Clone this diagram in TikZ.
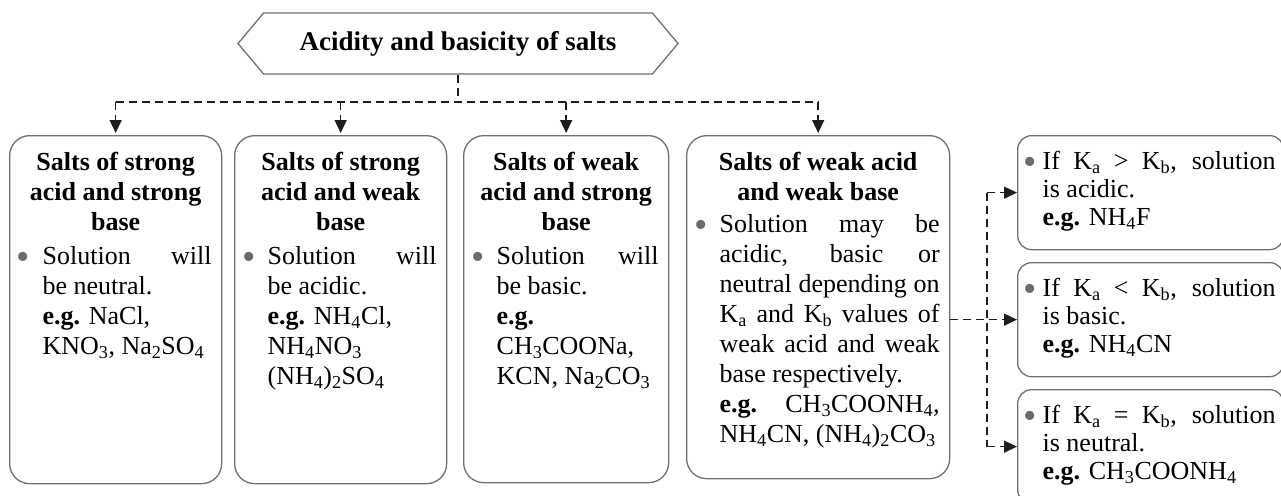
\documentclass[tikz,border=0pt]{standalone}
\usepackage{fontspec}
\setmainfont{Liberation Serif}
\usetikzlibrary{arrows.meta}
\usetikzlibrary{shapes.symbols}
\definecolor{boxgray}{HTML}{707070}
\definecolor{dotgray}{HTML}{6A6A6A}
\definecolor{linegray}{HTML}{1E1E1E}
\tikzstyle{titlebox}=[signal, signal to=west and east, signal pointer angle=100, draw=boxgray, line width=1.3pt, minimum width=440pt, minimum height=61pt, font=\fontsize{27}{30}\selectfont\bfseries]
\tikzstyle{saltbox}=[draw=boxgray, line width=1.3pt, rounded corners=20pt, anchor=north west, inner sep=0pt]
\tikzstyle{casebox}=[draw=boxgray, line width=1.3pt, rounded corners=14pt, anchor=north west, inner sep=0pt]
\tikzstyle{dline}=[linegray, line width=1.5pt, dash pattern=on 8pt off 5pt]
\tikzstyle{dnarrow}=[-{Triangle[length=13pt,width=12pt]}]
\newcommand{\chs}[1]{\textsubscript{#1}}
\newcommand{\firstline}{\rule{0pt}{35pt}}
\newcommand{\graydot}{\makebox[0pt]{\raisebox{-4.5pt}{\fontsize{38}{30}\selectfont\textcolor{dotgray}{\textbullet}}}}
% bullets for the text in the big and the small boxes
\newcommand{\bulbig}{\par\leftskip=10pt\rightskip=10pt\hangindent=23pt\hangafter=0\noindent\llap{\graydot\hspace{19pt}}}
\newcommand{\bulsmall}{\par\leftskip=13pt\rightskip=8pt\hangindent=12pt\hangafter=0\noindent\llap{\graydot\hspace{12.5pt}}}

\begin{document}
\begin{tikzpicture}[x=1pt, y=-1pt]
  \useasboundingbox (0,0) rectangle (1281,495);
  \node[titlebox] (title) at (458,43.5) {Acidity and basicity of salts};

  \node[saltbox] (sa) at (9,135) {\parbox[c][348pt][t]{212pt}{\fontsize{26}{30}\selectfont
    {\centering\bfseries\firstline Salts of strong\\acid and strong\\base\par}\vspace{4pt}
    \bulbig Solution will\linebreak be neutral.\\
    \textbf{e.g.} NaCl,\\
    KNO\chs{3}, Na\chs{2}SO\chs{4}\par}};
  \node[saltbox] (sb) at (234,135) {\parbox[c][348pt][t]{212pt}{\fontsize{26}{30}\selectfont
    {\centering\bfseries\firstline Salts of strong\\acid and weak\\base\par}\vspace{4pt}
    \bulbig Solution will\linebreak be acidic.\\
    \textbf{e.g.} NH\chs{4}Cl,\\
    NH\chs{4}NO\chs{3}\\
    (NH\chs{4})\chs{2}SO\chs{4}\par}};
  \node[saltbox] (sc) at (463,135) {\parbox[c][347pt][t]{205pt}{\fontsize{26}{30}\selectfont
    {\centering\bfseries\firstline Salts of weak\\acid and strong\\base\par}\vspace{4pt}
    \bulbig Solution will\linebreak be basic.\\
    \textbf{e.g.}\\
    CH\chs{3}COONa,\\
    KCN, Na\chs{2}CO\chs{3}\par}};
  \node[saltbox] (sd) at (686,135) {\parbox[c][343pt][t]{263pt}{\fontsize{26}{30}\selectfont
    {\centering\bfseries\firstline Salts of weak acid\\and weak base\par}\vspace{2pt}
    \bulbig Solution may be\linebreak
    acidic, basic or\linebreak
    neutral depending on\linebreak
    K\chs{a} and K\chs{b} values of\linebreak
    weak acid and weak\linebreak
    base respectively.\\
    \textbf{e.g.} CH\chs{3}COONH\chs{4},\linebreak
    NH\chs{4}CN, (NH\chs{4})\chs{2}CO\chs{3}\par}};

  \node[casebox] (ca) at (1017,135) {\parbox[c][114pt][t]{266pt}{\fontsize{26}{28}\selectfont
    \bulsmall\rule{0pt}{34pt}If K\chs{a} > K\chs{b}, solution\linebreak
    is acidic.\\
    \textbf{e.g.} NH\chs{4}F\par}};
  \node[casebox] (cb) at (1017,262) {\parbox[c][114pt][t]{266pt}{\fontsize{26}{28}\selectfont
    \bulsmall\rule{0pt}{34pt}If K\chs{a} < K\chs{b}, solution\linebreak
    is basic.\\
    \textbf{e.g.} NH\chs{4}CN\par}};
  \node[casebox] (cc) at (1017,389) {\parbox[c][114pt][t]{266pt}{\fontsize{26}{28}\selectfont
    \bulsmall\rule{0pt}{34pt}If K\chs{a} = K\chs{b}, solution\linebreak
    is neutral.\\
    \textbf{e.g.} CH\chs{3}COONH\chs{4}\par}};

  % tree from the title
  \coordinate (hub) at (458,102);
  \draw[dline] (title.south) -- (hub);
  \draw[dline] (hub -| sa.north) -- (hub -| sd.north);
  \foreach \b in {sa,sb,sc,sd}
    \draw[dline, dnarrow] (hub -| \b.north) -- ([yshift=2pt]\b.north);

  % weak acid and weak base cases
  \coordinate (split) at (987,320);
  \draw[dline, dnarrow] (sd.east |- cb.west) -- (cb.west);
  \draw[dline] (split |- ca.west) -- (split |- cc.west);
  \draw[dline, dnarrow] (split |- ca.west) -- (ca.west);
  \draw[dline, dnarrow] (split |- cc.west) -- (cc.west);
\end{tikzpicture}
\end{document}
